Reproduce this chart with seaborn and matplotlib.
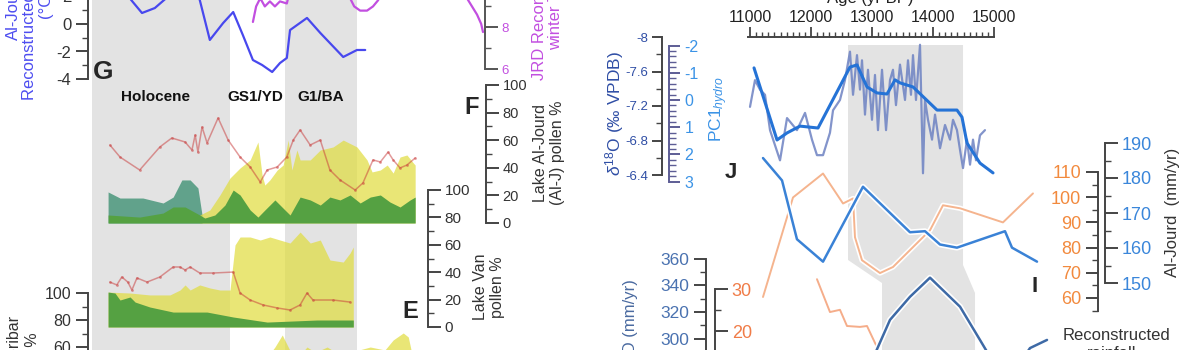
import matplotlib
matplotlib.use("Agg")
import matplotlib.pyplot as plt
import matplotlib.patheffects as pe
import numpy as np
import pandas as pd
import seaborn as sns

sns.set_theme(style="white")
plt.rcParams['font.family'] = ['Liberation Sans', 'DejaVu Sans']
plt.rcParams['axes.unicode_minus'] = False
plt.rcParams['mathtext.fontset'] = 'custom'
plt.rcParams['mathtext.rm'] = 'Liberation Sans'
plt.rcParams['mathtext.it'] = 'Liberation Sans:italic'

# ======================= DATA =======================
# ---- left column, age in ka BP ----
holocene_span = (8.69, 11.70)
ba_span = (12.90, 14.47)
period_names = ["Holocene", "GS1/YD", "G1/BA"]
period_mid = [10.08, 12.25, 13.67]

g_age = [9.41, 9.58, 9.78, 10.06, 10.35, 10.61, 10.94, 11.04, 11.26, 11.55, 11.77, 11.98,
         12.20, 12.40, 12.62, 12.79, 12.94, 13.01, 13.38, 13.67, 14.17, 14.47, 14.65]
g_temp = [2.3, 1.6, 0.8, 1.16, 2.0, 2.8, 2.3, 1.75, -1.16, 0.07, 0.87, -0.8,
          -2.62, -2.98, -3.49, -2.84, -2.47, -0.44, 0.44, -0.65, -2.4, -1.89, -1.89]

jrd_age = [12.20, 12.27, 12.36, 12.46, 12.57, 12.68, 12.79, 12.94, 13.01, 13.23, 14.10,
           14.21, 14.32, 14.41, 14.54, 14.69, 14.82, 14.93, 15.04, 16.07, 16.77, 16.87,
           16.98, 17.09, 17.18, 17.22]
jrd_winter = [8.24, 8.98, 9.37, 8.98, 9.22, 8.98, 9.22, 9.12, 9.76, 12.3, 11.3,
              9.85, 9.37, 8.98, 8.78, 8.78, 8.98, 9.27, 9.76, 12.3, 9.85, 9.37,
              8.98, 8.59, 8.15, 7.76]

# Lake Al-Jourd pollen (%)
f_red_age = [9.08, 9.30, 9.73, 10.17, 10.43, 10.72, 10.87, 10.94, 11.00, 11.09, 11.20, 11.44,
             11.66, 11.92, 12.14, 12.36, 12.51, 12.73, 12.94, 13.08, 13.23, 13.45, 13.67,
             13.88, 14.10, 14.43, 14.60, 14.82, 14.98, 15.15, 15.26, 15.41, 15.56, 15.74]
f_red = [56.5, 47.8, 38.4, 55.1, 61.6, 58.7, 52.9, 63.8, 51.4, 69.6, 58.0, 76.1,
         60.1, 47.8, 40.6, 29.7, 38.4, 40.6, 47.8, 60.1, 67.4, 56.5, 60.1,
         38.4, 31.2, 23.9, 29.0, 45.7, 44.2, 51.4, 45.7, 39.9, 42.0, 47.1]
f_teal_age = [9.04, 9.30, 9.80, 10.24, 10.46, 10.65, 10.83, 11.00, 11.09]
f_teal = [22.5, 18.1, 18.1, 14.5, 18.8, 31.2, 31.2, 25.4, 5.8]
f_green_age = [9.04, 9.73, 10.24, 10.46, 10.72, 11.04, 11.15, 11.37, 11.59, 11.77, 11.92,
               12.14, 12.31, 12.46, 12.68, 12.90, 13.01, 13.23, 13.45, 13.67, 13.88, 14.10,
               14.32, 14.54, 14.76, 14.98, 15.19, 15.41, 15.63, 15.74]
f_green = [5.8, 4.3, 7.2, 11.6, 11.6, 5.8, 3.6, 5.8, 13.0, 23.9, 20.3,
           9.4, 4.3, 9.4, 16.7, 9.4, 5.8, 18.8, 16.7, 13.0, 18.8, 16.7,
           20.3, 14.5, 18.8, 20.3, 15.2, 11.6, 16.7, 18.8]
f_yellow_age = [11.04, 11.26, 11.48, 11.70, 11.92, 12.14, 12.31, 12.40, 12.46, 12.57, 12.73,
                12.86, 12.97, 13.05, 13.16, 13.23, 13.45, 13.67, 13.95, 14.17, 14.47, 14.69,
                14.80, 14.98, 15.13, 15.26, 15.41, 15.56, 15.70, 15.74]
f_yellow = [5.8, 9.4, 20.3, 32.6, 39.9, 45.7, 58.7, 34.8, 27.5, 31.2, 38.4,
            42.0, 60.1, 38.4, 52.9, 45.7, 45.7, 52.9, 55.1, 60.1, 55.1, 45.7,
            37.0, 38.4, 42.0, 36.2, 47.8, 49.3, 43.5, 42.0]

# Lake Van pollen (%)
e_red_age = [9.08, 9.23, 9.34, 9.47, 9.56, 9.67, 9.89, 10.17, 10.46, 10.61, 10.72, 10.83,
             11.04, 11.33, 11.77, 11.92, 12.14, 12.42, 12.73, 13.01, 13.23, 13.38, 13.51,
             13.95, 14.32]
e_red = [32.8, 30.7, 36.5, 32.8, 27.0, 35.8, 32.8, 36.5, 43.8, 43.8, 41.6, 43.8,
         39.4, 39.4, 40.1, 24.8, 19.7, 16.1, 13.9, 12.4, 16.1, 24.8, 19.7,
         19.7, 18.2]
e_yellow_age = [9.04, 9.52, 9.95, 10.39, 10.61, 10.72, 10.83, 11.04, 11.26, 11.48, 11.70,
                11.81, 11.92, 12.14, 12.36, 12.57, 12.79, 13.01, 13.23, 13.45, 13.67, 13.88,
                14.17, 14.32, 14.39]
e_yellow = [25.5, 24.8, 23.4, 23.4, 27.0, 30.7, 27.0, 30.7, 28.5, 27.0, 27.0,
            59.9, 65.7, 65.7, 63.5, 65.7, 63.5, 61.3, 69.3, 61.3, 63.5, 48.9,
            47.4, 54.0, 58.4]
e_green_age = [9.04, 9.19, 9.30, 9.52, 9.63, 9.95, 10.46, 11.20, 11.77, 12.51, 13.60, 14.32, 14.39]
e_green = [25.5, 24.8, 19.7, 21.9, 18.2, 14.6, 10.9, 10.9, 7.3, 3.6, 5.1, 5.1, 5.1]

# Lake Zeribar pollen (%)
z_yellow_age = [12.46, 12.68, 12.84, 12.97, 13.12, 13.38, 13.56, 13.82, 14.10, 14.76, 15.08,
                15.26, 15.48, 15.59, 15.70]
z_yellow = [50, 60.0, 68.9, 60.0, 50, 60.0, 56, 60.0, 54, 60.0, 57.8, 65.2, 70.4, 67.4, 50]

# ---- right column, age in yr BP ----
band_upper = (12607, 14492)
band_lower = (13164, 14689)

pc1_age = [11066, 11443, 11607, 11820, 12115, 12639, 12754, 12918, 13082, 13246, 13377,
           13459, 13672, 14066, 14393, 14475, 14557, 14770, 14984]
pc1 = [-1.18, 1.47, 1.21, 0.96, 1.03, -1.21, -1.29, -0.48, -0.26, -0.22, -0.74,
       -0.63, -0.48, 0.37, 0.37, 0.63, 1.58, 2.32, 2.68]

d18o_age = [11000, 11082, 11164, 11246, 11328, 11492, 11607, 11770, 11902, 12016, 12098,
            12197, 12311, 12361, 12475, 12557, 12639, 12689, 12754, 12803, 12836, 12885,
            12934, 13000, 13049, 13098, 13164, 13230, 13295, 13344, 13393, 13459, 13541,
            13590, 13639, 13672, 13721, 13787, 13836, 13869, 13918, 13984, 14033, 14115,
            14197, 14279, 14328, 14393, 14443, 14492, 14557, 14607, 14656, 14705, 14770,
            14852]
d18o = [-7.19, -7.50, -7.39, -7.33, -6.92, -6.57, -7.06, -6.92, -7.12, -6.81, -6.63,
        -6.63, -6.89, -7.15, -7.27, -7.50, -7.83, -7.33, -7.79, -7.39, -7.73, -7.10,
        -7.62, -7.04, -7.56, -6.92, -7.62, -6.92, -7.50, -7.62, -7.21, -7.68, -7.27,
        -7.73, -7.33, -7.79, -7.27, -7.91, -6.42, -7.27, -7.04, -6.81, -7.10, -6.71,
        -6.98, -6.81, -7.04, -6.92, -6.69, -6.48, -6.81, -6.52, -6.81, -6.57, -6.86,
        -6.92]

aj_blue_age = [11213, 11525, 11770, 12197, 12852, 13623, 13869, 14115, 14393, 15180, 15295, 15705]
aj_blue = [185.7, 179.3, 162.5, 156.1, 177.5, 164.5, 164.8, 161.0, 160.1, 164.8, 160.1, 156.1]
aj_orange_age = [11213, 11705, 12197, 12525, 12689, 12721, 12836, 13131, 13344, 13951, 14164,
                 14443, 15147, 15639]
aj_orange = [60.4, 99.9, 109.4, 97.5, 99.5, 84.1, 75.0, 69.9, 72.3, 86.9, 96.8,
             95.6, 90.0, 101.5]

rec_orange_age = [12098, 12311, 12475, 12590, 12803, 12918, 13082, 13164]
rec_orange = [32.4, 25.1, 25.6, 22.0, 21.8, 22.0, 17.3, 14.4]
rec_blue_age = [12967, 13295, 13623, 13951, 14443, 14770, 15016, 15344, 15590, 15869]
rec_blue = [283.3, 316.0, 332.7, 346.5, 325.5, 301.5, 283.3, 279.6, 295.6, 301.5]

# ======================= LAYOUT HELPERS =======================
W, H = 1200, 350
fig = plt.figure(figsize=(12, 3.5), dpi=100)
fig.patch.set_facecolor('white')


def px_ax(x0, y0, x1, y1, z=1):
    ax = fig.add_axes([x0 / W, 1 - y1 / H, (x1 - x0) / W, (y1 - y0) / H], zorder=z)
    ax.set_facecolor('none')
    for s in ax.spines.values():
        s.set_visible(False)
    ax.set_xticks([])
    ax.set_yticks([])
    ax.grid(False)
    return ax


def lin(p1, v1, p2, v2):
    k = (v2 - v1) / (p2 - p1)
    return lambda p: v1 + (p - p1) * k


ident = lambda p: p
lx = lin(230, 11.7, 285, 12.9)       # left column px -> ka
rx = lin(750, 11000, 994, 15000)     # right column px -> yr


def lims(ax, x0, y0, x1, y1, fx, fy):
    ax.set_xlim(fx(x0), fx(x1))
    ax.set_ylim(fy(y1), fy(y0))


def data_ax(x0, y0, x1, y1, fx, fy, z=2):
    ax = px_ax(x0, y0, x1, y1, z)
    lims(ax, x0, y0, x1, y1, fx, fy)
    return ax


def spine_ax(xpx, y0, y1, fy, side, major, labels, minor, bounds, lc, fs,
             tc='#444444', maj_len=9, min_len=4, pad=3, minor_color=None):
    if side == 'left':
        ax = px_ax(xpx, y0, xpx + 2, y1, 6)
    else:
        ax = px_ax(xpx - 2, y0, xpx, y1, 6)
    ax.set_ylim(fy(y1), fy(y0))
    sp = ax.spines[side]
    sp.set_visible(True)
    sp.set_color(tc)
    sp.set_linewidth(1.4)
    sp.set_bounds(*bounds)
    ax.yaxis.set_ticks_position(side)
    ax.set_yticks(major, labels=labels)
    ax.set_yticks(minor, minor=True)
    ax.tick_params(axis='y', which='major', direction='out', length=maj_len, width=1.4,
                   color=tc, labelcolor=lc, labelsize=fs, pad=pad)
    ax.tick_params(axis='y', which='minor', direction='out', length=min_len, width=1.0,
                   color=minor_color or tc)
    return ax


def sline(ax, x, y, color, lw, alpha=1.0, outline=False, **kw):
    extra = {}
    if outline:
        extra['path_effects'] = [pe.Stroke(linewidth=lw + 2.4, foreground='white'), pe.Normal()]
    sns.lineplot(x=x, y=y, ax=ax, color=color, linewidth=lw, alpha=alpha, sort=False,
                 estimator=None, legend=False, **extra, **kw)
    ax.set_xlabel('')
    ax.set_ylabel('')


def ftxt(x, y, s, **kw):
    fig.text(x / W, 1 - y / H, s, **kw)


GREY = '#e3e3e3'
YELLOW = '#e0dc3c'
GREEN = '#55a142'
TEAL = '#5a9f86'
RED = '#c83838'

# ======================= LEFT COLUMN =======================
bgL = data_ax(0, 0, 600, 350, lx, ident, z=0)
bgL.axvspan(*holocene_span, color=GREY, lw=0)
bgL.axvspan(*ba_span, color=GREY, lw=0)
for name, m in zip(period_names, period_mid):
    bgL.text(m, 97, name, ha='center', va='center', fontsize=11, fontweight='bold', color='#111111')

# G : temperature
fyG = lin(24, 0, 79, -4)
axG = data_ax(0, 0, 600, 100, lx, fyG)
sline(axG, g_age, g_temp, '#4848ee', 1.6)
lims(axG, 0, 0, 600, 100, lx, fyG)
spine_ax(88, -10, 90, fyG, 'left', [-4, -2, 0, 2], ['-4', '-2', '0', '2'], [-3, -1, 1],
         (-4, 2), '#333333', 12)

# JRD winter (magenta)
fyM = lin(69, 6, 27, 8)
axM = data_ax(0, 0, 600, 100, lx, fyM)
sline(axM, jrd_age, jrd_winter, '#c24fe0', 1.6)
lims(axM, 0, 0, 600, 100, lx, fyM)
spine_ax(485, -10, 72, fyM, 'right', [6, 8], ['6', '8'], [7, 9], (6, 9.5),
         '#c24fe0', 9.5, tc='#555555')

# F : Lake Al-Jourd pollen
fyF = lin(223, 0, 85, 100)
axF = data_ax(0, 80, 600, 230, lx, fyF)
axF.fill_between(f_teal_age, 0, f_teal, color=TEAL, lw=0, alpha=0.95)
axF.fill_between(f_yellow_age, 0, f_yellow, color=YELLOW, lw=0, alpha=0.7)
axF.fill_between(f_green_age, 0, f_green, color=GREEN, lw=0)
sline(axF, f_red_age, f_red, RED, 1.1, alpha=0.5, marker='o', markersize=2, markeredgewidth=0)
lims(axF, 0, 80, 600, 230, lx, fyF)
spine_ax(486, 80, 228, fyF, 'right', [0, 20, 40, 60, 80, 100],
         ['0', '20', '40', '60', '80', '100'], [10, 30, 50, 70, 90], (0, 100), '#333333', 10.5)

# E : Lake Van pollen
fyE = lin(327, 0, 190, 100)
axE = data_ax(0, 185, 600, 330, lx, fyE)
axE.fill_between(e_yellow_age, 0, e_yellow, color=YELLOW, lw=0, alpha=0.7)
axE.fill_between(e_green_age, 0, e_green, color=GREEN, lw=0)
sline(axE, e_red_age, e_red, RED, 1.1, alpha=0.5, marker='o', markersize=2, markeredgewidth=0)
lims(axE, 0, 185, 600, 330, lx, fyE)
spine_ax(428, 185, 330, fyE, 'right', [0, 20, 40, 60, 80, 100],
         ['0', '20', '40', '60', '80', '100'], [10, 30, 50, 70, 90], (0, 100), '#333333', 11)

# bottom-left : Zeribar pollen
fyZ = lin(293, 100, 320, 80)
axZ = data_ax(0, 285, 600, 350, lx, fyZ)
axZ.fill_between(z_yellow_age, 0, z_yellow, color=YELLOW, lw=0, alpha=0.7)
lims(axZ, 0, 285, 600, 350, lx, fyZ)
spine_ax(88, 285, 352, fyZ, 'left', [60, 80, 100], ['60', '80', '100'], [70, 90],
         (50, 100), '#333333', 11.5)

# left texts
BLUE_T = '#4d4df0'
ftxt(13, 40, 'Al-Jourd', rotation=90, ha='center', va='bottom', color=BLUE_T, fontsize=12)
ftxt(30, 100, 'Reconstructed summer T', rotation=90, ha='center', va='bottom', color=BLUE_T, fontsize=12)
ftxt(46, 18, '(°C)', rotation=90, ha='center', va='bottom', color=BLUE_T, fontsize=12)
ftxt(540, 80, 'JRD Reconstructed', rotation=90, ha='center', va='bottom', color='#c24fe0', fontsize=12)
ftxt(556, 50, 'winter T (°C)', rotation=90, ha='center', va='bottom', color='#c24fe0', fontsize=12)
ftxt(549, 153, 'Lake Al-Jourd\n(Al-J) pollen %', rotation=90, ha='center', va='center',
     color='#333333', fontsize=11.5, linespacing=1.1)
ftxt(489, 287, 'Lake Van\npollen %', rotation=90, ha='center', va='center',
     color='#333333', fontsize=11.5, linespacing=1.1)
ftxt(15, 316, 'Lake Zeribar', rotation=90, ha='center', va='top', color='#333333', fontsize=11.5)
ftxt(33, 332, 'pollen %', rotation=90, ha='center', va='top', color='#333333', fontsize=11.5)
ftxt(103, 72, 'G', fontsize=19, fontweight='bold', ha='center', va='center')
ftxt(472, 108, 'F', fontsize=17, fontweight='bold', ha='center', va='center')
ftxt(410, 311, 'E', fontsize=17, fontweight='bold', ha='center', va='center')

# ======================= RIGHT COLUMN =======================
bgR = data_ax(600, 0, 1200, 350, rx, ident, z=0)
bgR.fill([band_upper[0], band_upper[1], band_upper[1], band_lower[1], band_lower[1],
          band_lower[0], band_lower[0], band_upper[0]],
         [45, 45, 265, 293, 352, 352, 283, 260], color=GREY, lw=0)

# top age axis
axT = data_ax(740, 37, 1000, 60, rx, ident, z=6)
axT.spines['top'].set_visible(True)
axT.spines['top'].set_color('#444444')
axT.spines['top'].set_linewidth(1.4)
axT.spines['top'].set_bounds(rx(748), 15000)
axT.xaxis.set_ticks_position('top')
axT.set_xticks([11000, 12000, 13000, 14000, 15000],
               labels=['11000', '12000', '13000', '14000', '15000'])
axT.set_xticks([v for v in range(11000, 15000, 100) if v % 1000], minor=True)
axT.tick_params(axis='x', which='major', direction='out', length=7, width=1.3,
                color='#444444', labelsize=11.5, labelcolor='#222222', pad=2)
axT.tick_params(axis='x', which='minor', direction='out', length=3.5, width=1.0, color='#444444')
ftxt(870, -2, 'Age (yr BP)', ha='center', va='center', fontsize=12, color='#222222')

# J : speleothem d18O and PC1
fyP = lin(100, 0, 127.2, 1)
fyD = lin(37, -8, 175, -6.4)
axD = data_ax(740, 37, 1000, 190, rx, fyD)
sline(axD, d18o_age, d18o, '#6d82c2', 1.6, alpha=0.85)
lims(axD, 740, 37, 1000, 190, rx, fyD)
axP = data_ax(740, 37, 1000, 190, rx, fyP, z=3)
sline(axP, pc1_age, pc1, '#2573d6', 2.2)
lims(axP, 740, 37, 1000, 190, rx, fyP)

spine_ax(662, 30, 180, fyD, 'left', [-8, -7.6, -7.2, -6.8, -6.4],
         ['-8', '-7.6', '-7.2', '-6.8', '-6.4'], [-7.8, -7.4, -7.0, -6.6], (-8, -6.4),
         '#2f4ea5', 9.5, maj_len=7)
spine_ax(669, 40, 185, fyP, 'right', [-2, -1, 0, 1, 2, 3], ['-2', '-1', '0', '1', '2', '3'],
         [round(v, 1) for v in np.arange(-2, 3.01, 0.2)], (-2, 3), '#3b93e6', 11.5,
         tc='#5d5d95', maj_len=8, min_len=5)
ftxt(615, 113, r'$\delta^{18}$O (‰ VPDB)', rotation=90, ha='center', va='center',
     color='#2f4ea5', fontsize=12.5)
ftxt(719, 109, r'PC1$_{hydro}$', rotation=90, ha='center', va='center', color='#3b93e6', fontsize=12.5)
ftxt(731, 172, 'J', fontsize=16, fontweight='bold', ha='center', va='center')

# I : Al-Jourd (mm/yr)
fyIb = lin(283, 150, 178, 180)
fyIo = lin(298, 60, 172, 110)
axIo = data_ax(740, 100, 1100, 345, rx, fyIo)
sline(axIo, aj_orange_age, aj_orange, '#f5b48e', 1.4, outline=True)
lims(axIo, 740, 100, 1100, 345, rx, fyIo)
axIb = data_ax(740, 100, 1100, 345, rx, fyIb, z=3)
sline(axIb, aj_blue_age, aj_blue, '#3a82d6', 1.8, outline=True)
lims(axIb, 740, 100, 1100, 345, rx, fyIb)
spine_ax(1098, 160, 320, fyIo, 'left', [60, 70, 80, 90, 100, 110],
         ['60', '70', '80', '90', '100', '110'], [55, 65, 75, 85, 95, 105], (55, 110),
         '#f28a3e', 13)
spine_ax(1105, 135, 295, fyIb, 'right', [150, 160, 170, 180, 190],
         ['150', '160', '170', '180', '190'], [155, 165, 175, 185], (150, 190), '#3a86da', 13)
ftxt(1172, 212, 'Al-Jourd  (mm/yr)', rotation=90, ha='center', va='center',
     color='#333333', fontsize=12)
ftxt(1035, 287, 'I', fontsize=16, fontweight='bold', ha='center', va='center')

# bottom-right : reconstructed JRD (mm/yr)
fyRb = lin(342, 300, 259, 360)
fyRo = lin(335, 20, 290, 30)
axRo = data_ax(740, 250, 1100, 352, rx, fyRo)
sline(axRo, rec_orange_age, rec_orange, '#f5ad8a', 1.4)
lims(axRo, 740, 250, 1100, 352, rx, fyRo)
axRb = data_ax(740, 250, 1100, 352, rx, fyRb, z=3)
sline(axRb, rec_blue_age, rec_blue, '#3e6aa6', 1.8, outline=True)
lims(axRb, 740, 250, 1100, 352, rx, fyRb)
spine_ax(706, 250, 352, fyRb, 'left', [300, 320, 340, 360], ['300', '320', '340', '360'],
         [290, 310, 330, 350], (280, 360), '#4a72b0', 12.5)
spine_ax(715, 280, 352, fyRo, 'right', [20, 30], ['20', '30'], [15, 25], (10, 30),
         '#f07c48', 13)
ftxt(630, 279, 'Reconstructed JRD (mm/yr)', rotation=90, ha='center', va='top',
     color='#4a6aa0', fontsize=12)
ftxt(1117, 335, 'Reconstructed', ha='center', va='center', color='#333333', fontsize=12)
ftxt(1112, 353, 'rainfall', ha='center', va='center', color='#333333', fontsize=12)

fig.savefig('out.png', dpi=100, facecolor='white')
